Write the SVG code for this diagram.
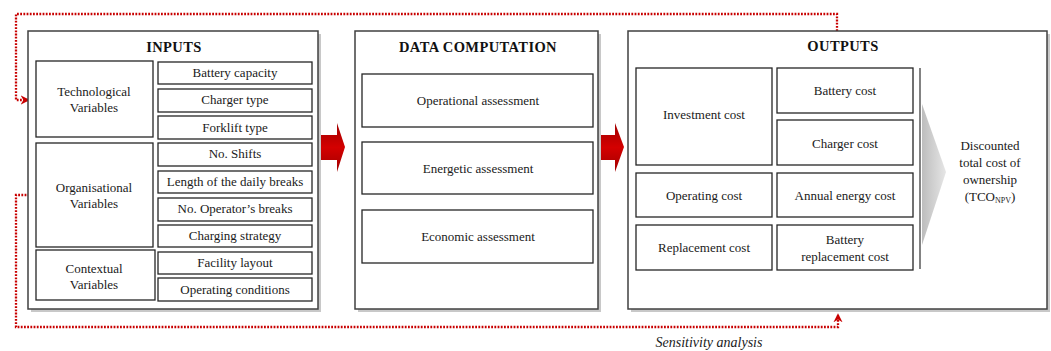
<svg xmlns="http://www.w3.org/2000/svg" width="1051" height="351" viewBox="0 0 1051 351">
  <style>
    .panel { fill: #ffffff; stroke: #404040; stroke-width: 1.5; }
    .shadow { fill: #c8c8c8; }
    .box { fill: #ffffff; stroke: #262626; stroke-width: 1.3; }
    .t { font-family: "Liberation Serif", "DejaVu Serif", serif; font-size: 13px; fill: #1a1a1a; text-anchor: middle; }
    .title { font-family: "Liberation Serif", "DejaVu Serif", serif; font-size: 14.5px; font-weight: bold; fill: #111; text-anchor: middle; letter-spacing: 0.4px; }
    .loop { fill: none; stroke: #c80000; stroke-width: 2.3; stroke-dasharray: 1.8 1.4; }
    .flow { fill: url(#redFlow); }
  </style>
  <defs>
    <linearGradient id="redFlow" x1="0" y1="0" x2="0" y2="1">
      <stop offset="0" stop-color="#a00000"/>
      <stop offset="0.5" stop-color="#d40000"/>
      <stop offset="1" stop-color="#a00000"/>
    </linearGradient>
    <linearGradient id="greyFlow" x1="0" y1="0" x2="1" y2="0">
      <stop offset="0" stop-color="#bdbdbd"/>
      <stop offset="1" stop-color="#e6e6e6"/>
    </linearGradient>
    <marker id="dotHead" viewBox="0 0 10 10" refX="8" refY="5" markerWidth="4" markerHeight="4" orient="auto" markerUnits="strokeWidth">
      <path d="M0,0 L10,5 L0,10 L3,5 Z" fill="#c80000"/>
    </marker>
  </defs>

  <!-- feedback loops (sensitivity analysis) -->
  <g id="connectors">
    <polyline class="loop" points="837,31 837,14 16,14 16,100 28,100" marker-end="url(#dotHead)"/>
    <polyline class="loop" points="36,195 16,195 16,327 838,327 838,315" marker-end="url(#dotHead)"/>
    <!-- main flow arrows -->
    <path class="flow" d="M320,135 H337 V123 L345,147 L337,172 V160 H320 Z"/>
    <path class="flow" d="M600,135 H615 V123 L624,147 L615,172 V160 H600 Z"/>
    <text x="709" y="347" class="t" style="font-style:italic;font-size:14px">Sensitivity analysis</text>
  </g>

  <!-- INPUTS panel -->
  <g id="inputs">
    <rect class="shadow" x="31" y="34" width="290" height="278"/>
    <rect class="panel" x="28" y="31" width="290" height="278"/>
    <text x="174" y="52" class="title">INPUTS</text>
  </g>
  <g id="technological">
    <rect class="box" x="36" y="61" width="117" height="76"/>
    <text x="94" y="96" class="t">Technological</text>
    <text x="94" y="112" class="t">Variables</text>
  </g>
  <g id="organisational">
    <rect class="box" x="36" y="143" width="117" height="104"/>
    <text x="94" y="192" class="t">Organisational</text>
    <text x="94" y="208" class="t">Variables</text>
  </g>
  <g id="contextual">
    <rect class="box" x="36" y="250" width="119" height="50"/>
    <text x="94" y="273" class="t">Contextual</text>
    <text x="94" y="289" class="t">Variables</text>
  </g>
  <g id="battery-capacity">
    <rect class="box" x="158" y="62" width="154" height="22"/>
    <text x="235" y="77" class="t">Battery capacity</text>
  </g>
  <g id="charger-type">
    <rect class="box" x="158" y="89" width="154" height="23"/>
    <text x="235" y="104" class="t">Charger type</text>
  </g>
  <g id="forklift-type">
    <rect class="box" x="158" y="116" width="154" height="23"/>
    <text x="235" y="132" class="t">Forklift type</text>
  </g>
  <g id="no-shifts">
    <rect class="box" x="158" y="143" width="154" height="23"/>
    <text x="235" y="158" class="t">No. Shifts</text>
  </g>
  <g id="daily-breaks">
    <rect class="box" x="158" y="171" width="154" height="22"/>
    <text x="235" y="186" class="t">Length of the daily breaks</text>
  </g>
  <g id="operator-breaks">
    <rect class="box" x="158" y="198" width="154" height="23"/>
    <text x="235" y="213" class="t">No. Operator’s breaks</text>
  </g>
  <g id="charging-strategy">
    <rect class="box" x="158" y="225" width="154" height="22"/>
    <text x="235" y="240" class="t">Charging strategy</text>
  </g>
  <g id="facility-layout">
    <rect class="box" x="158" y="252" width="154" height="22"/>
    <text x="235" y="267" class="t">Facility layout</text>
  </g>
  <g id="operating-conditions">
    <rect class="box" x="158" y="278" width="154" height="23"/>
    <text x="235" y="294" class="t">Operating conditions</text>
  </g>

  <!-- DATA COMPUTATION panel -->
  <g id="data-computation">
    <rect class="shadow" x="358" y="34" width="243" height="278"/>
    <rect class="panel" x="355" y="31" width="243" height="278"/>
    <text x="478" y="52" class="title">DATA COMPUTATION</text>
  </g>
  <g id="operational">
    <rect class="box" x="362" y="74" width="231" height="53"/>
    <text x="478" y="105" class="t">Operational assessment</text>
  </g>
  <g id="energetic">
    <rect class="box" x="362" y="142" width="231" height="52"/>
    <text x="478" y="173" class="t">Energetic assessment</text>
  </g>
  <g id="economic">
    <rect class="box" x="362" y="210" width="231" height="53"/>
    <text x="478" y="241" class="t">Economic assessment</text>
  </g>

  <!-- OUTPUTS panel -->
  <g id="outputs">
    <rect class="shadow" x="631" y="34" width="419" height="278"/>
    <rect class="panel" x="628" y="31" width="419" height="278"/>
    <text x="843" y="51" class="title">OUTPUTS</text>
    <line x1="920" y1="68" x2="920" y2="269" stroke="#404040" stroke-width="1.3"/>
  </g>
  <g id="investment-cost">
    <rect class="box" x="636" y="68" width="136" height="97"/>
    <text x="704" y="119" class="t">Investment cost</text>
  </g>
  <g id="battery-cost">
    <rect class="box" x="777" y="68" width="136" height="45"/>
    <text x="845" y="95" class="t">Battery cost</text>
  </g>
  <g id="charger-cost">
    <rect class="box" x="777" y="120" width="136" height="45"/>
    <text x="845" y="148" class="t">Charger cost</text>
  </g>
  <g id="operating-cost">
    <rect class="box" x="636" y="173" width="136" height="44"/>
    <text x="704" y="200" class="t">Operating cost</text>
  </g>
  <g id="annual-energy-cost">
    <rect class="box" x="777" y="173" width="136" height="44"/>
    <text x="845" y="200" class="t">Annual energy cost</text>
  </g>
  <g id="replacement-cost">
    <rect class="box" x="636" y="225" width="136" height="45"/>
    <text x="704" y="252" class="t">Replacement cost</text>
  </g>
  <g id="battery-replacement-cost">
    <rect class="box" x="777" y="225" width="136" height="45"/>
    <text x="845" y="244" class="t">Battery</text>
    <text x="845" y="261" class="t">replacement cost</text>
  </g>
  <g id="tco">
    <path d="M922,104 L946,172 L922,245 Z" fill="url(#greyFlow)"/>
    <text x="990" y="150" class="t">Discounted</text>
    <text x="990" y="167" class="t">total cost of</text>
    <text x="990" y="184" class="t">ownership</text>
    <text x="990" y="201" class="t">(TCO<tspan font-size="8" dy="2">NPV</tspan><tspan dy="-2">)</tspan></text>
  </g>
</svg>
